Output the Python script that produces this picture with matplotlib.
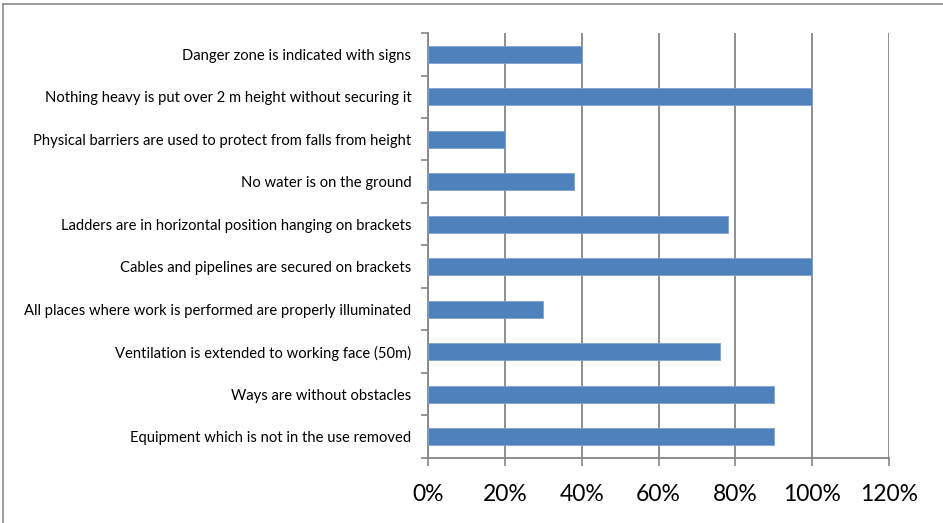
import numpy as np
import matplotlib.pyplot as plt
from matplotlib.lines import Line2D
from matplotlib.ticker import FuncFormatter

# categories from top to bottom
categories = [
    "Danger zone is indicated with signs",
    "Nothing heavy is put over 2 m height without securing it",
    "Physical barriers are used to protect from falls from height",
    "No water is on the ground",
    "Ladders are in horizontal position hanging on brackets",
    "Cables and pipelines are secured on brackets",
    "All places where work is performed are properly illuminated",
    "Ventilation is extended to working face (50m)",
    "Ways are without obstacles",
    "Equipment which is not in the use removed",
]
values = [0.40, 1.00, 0.20, 0.38, 0.78, 1.00, 0.30, 0.76, 0.90, 0.90]
xticks = [0, 0.2, 0.4, 0.6, 0.8, 1.0, 1.2]

bar_color = "#4F81BD"
grid_color = "#868686"

fig = plt.figure(figsize=(9.43, 5.23), dpi=100)
ax = fig.add_axes([0.4539, 0.1243, 0.4889, 0.8126])

n = len(categories)
pos = np.arange(n)[::-1]
ax.barh(pos, values, height=0.4, color=bar_color, edgecolor="#7FA3D0", linewidth=0.6, zorder=3)

ax.set_xlim(0, 1.2)
ax.set_ylim(-0.5, n - 0.5)
ax.set_xticks(xticks)
ax.xaxis.set_major_formatter(FuncFormatter(lambda v, p: f"{v*100:.0f}%"))
ax.set_yticks(pos)
ax.set_yticklabels(categories, family=["Lato", "DejaVu Sans"], fontsize=10.6)
ax.set_yticks(np.arange(-0.5, n, 1.0), minor=True)

ax.tick_params(axis="y", which="major", length=0, pad=12)
ax.tick_params(axis="y", which="minor", length=5, color=grid_color, width=1.2, direction="out")
ax.tick_params(axis="x", length=6, color=grid_color, width=1.2, direction="out", pad=13)
for lab in ax.get_xticklabels():
    lab.set_family(["Lato", "DejaVu Sans"])
    lab.set_fontsize(16.5)

ax.grid(axis="x", color=grid_color, linewidth=1.3, zorder=0)
for side in ["top", "right"]:
    ax.spines[side].set_visible(False)
for side in ["left", "bottom"]:
    ax.spines[side].set_color(grid_color)
    ax.spines[side].set_linewidth(1.3)

# outer chart frame (only top and left visible in the crop)
fig.add_artist(Line2D([3 / 943, 3 / 943], [0, 1 - 4 / 523], transform=fig.transFigure,
                      color="#8C8C8C", linewidth=1.2))
fig.add_artist(Line2D([3 / 943, 1], [1 - 4 / 523, 1 - 4 / 523], transform=fig.transFigure,
                      color="#8C8C8C", linewidth=1.2))

fig.savefig("out.png", dpi=100)
